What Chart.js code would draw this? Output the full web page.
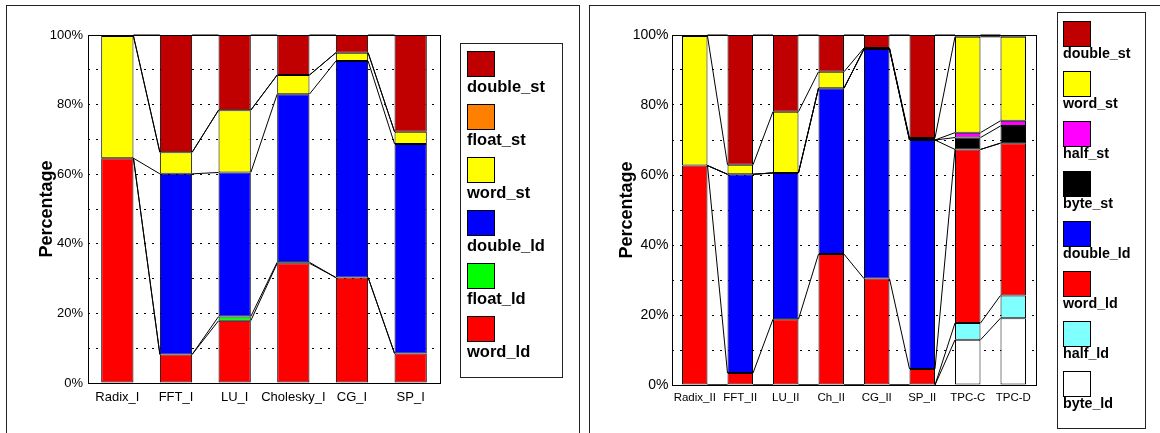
<!DOCTYPE html>
<html>
<head>
<meta charset="utf-8">
<script src="https://cdn.jsdelivr.net/npm/chart.js@4.4.1/dist/chart.umd.min.js"></script>
<style>
  body { margin: 0; background: #fff; overflow: hidden; width: 1160px; height: 433px; }
  .panel { position: absolute; border: 1px solid #222; background: #fff; }
  #panelA { left: 6px; top: 5px; width: 572px; height: 440px; }
  #panelB { left: 589px; top: 5px; width: 600px; height: 440px; }
  canvas { display: block; }
</style>
</head>
<body>
<div class="panel" id="panelA"><canvas id="chartA" width="572" height="427"></canvas></div>
<div class="panel" id="panelB"><canvas id="chartB" width="570" height="427"></canvas></div>
<script>
// benchmark suite I
const labelsI = ["Radix_I", "FFT_I", "LU_I", "Cholesky_I", "CG_I", "SP_I"];
const wordLdI   = [64.6,  8.2, 17.9, 34.4, 30.3,  8.5];
const floatLdI  = [0,     0,    1.2,  0.3,  0,     0];
const doubleLdI = [0,    51.9, 41.4, 48.3, 62.2, 60.2];
const wordStI   = [35.1,  6.2, 17.9,  5.5,  2.4,  3.5];
const floatStI  = [0,     0,    0,    0,    0,    0];
const doubleStI = [0.3,  33.7, 21.6, 11.5,  5.1, 27.8];

// benchmark suite II + TPC
const labelsII = ["Radix_II", "FFT_II", "LU_II", "Ch_II", "CG_II", "SP_II", "TPC-C", "TPC-D"];
const byteLdII   = [0,    0,    0,    0,    0,    0,    12.9, 19.1];
const halfLdII   = [0,    0,    0,    0,    0,    0,     4.8,  6.5];
const wordLdII   = [62.7, 3.4, 18.8, 37.4, 30.4,  4.6, 49.6, 43.5];
const doubleLdII = [0,   56.8, 41.8, 47.4, 65.6, 65.4,  0,    0];
const byteStII   = [0,    0,    0,    0,    0,    0,     3.4,  4.9];
const halfStII   = [0,    0,    0,    0,    0,    0,     1.4,  1.5];
const wordStII   = [37.0, 2.7, 17.5,  4.7,  0.3,  0.6, 27.4, 24.0];
const doubleStII = [0.3, 37.1, 21.9, 10.5,  3.7, 29.4,  0.5,  0.5];

const yTicks = [0, 20, 40, 60, 80, 100];

Chart.defaults.font.family = "'Liberation Sans', Arial, sans-serif";
Chart.defaults.color = "#000";

// plot frame + thin lines joining each stack boundary to the same boundary of the next bar
const seriesLines = {
  id: "seriesLines",
  afterDatasetsDraw(chart) {
    const ctx = chart.ctx;
    const a = chart.chartArea;
    ctx.save();
    ctx.strokeStyle = "#000";
    ctx.lineWidth = 1;
    ctx.strokeRect(Math.round(a.left) + 0.5, Math.round(a.top) + 0.5,
      Math.round(a.right - a.left), Math.round(a.bottom - a.top));
    chart.data.datasets.forEach((ds, d) => {
      const bars = chart.getDatasetMeta(d).data;
      for (let i = 0; i < bars.length - 1; i++) {
        const p = bars[i], q = bars[i + 1];
        ctx.beginPath();
        ctx.moveTo(p.x + p.width / 2, p.y);
        ctx.lineTo(q.x - q.width / 2, q.y);
        ctx.stroke();
      }
    });
    ctx.restore();
  }
};

// legend box on the right: swatch with the name under it
const stackLegend = {
  id: "stackLegend",
  afterDraw(chart, args, o) {
    const ctx = chart.ctx;
    ctx.save();
    ctx.strokeStyle = "#222";
    ctx.lineWidth = 1;
    ctx.strokeRect(o.x + 0.5, o.y + 0.5, o.w, o.h);
    ctx.font = "bold " + o.fontSize + "px 'Liberation Sans', Arial, sans-serif";
    ctx.textBaseline = "middle";
    ctx.textAlign = "left";
    const items = chart.data.datasets.slice().reverse();
    items.forEach((ds, k) => {
      const top = o.first + k * o.step;
      ctx.fillStyle = ds.backgroundColor;
      ctx.fillRect(o.sx, top, 27, 25);
      ctx.strokeStyle = "#000";
      ctx.strokeRect(o.sx + 0.5, top + 0.5, 27, 25);
      ctx.fillStyle = "#000";
      ctx.fillText(ds.label, o.sx, top + o.textOffset);
    });
    ctx.restore();
  }
};

function stacked(names, values, colors) {
  return names.map((n, i) => ({
    label: n,
    data: values[i],
    backgroundColor: colors[i],
    borderColor: "#000",
    borderWidth: 1,
    borderSkipped: false
  }));
}

function makeChart(id, labels, datasets, cfg) {
  return new Chart(document.getElementById(id).getContext("2d"), {
    type: "bar",
    data: { labels: labels, datasets: datasets },
    plugins: [seriesLines, stackLegend],
    options: {
      responsive: false,
      animation: false,
      devicePixelRatio: 1,
      layout: { padding: { left: 0, top: cfg.top, right: cfg.right, bottom: 0 } },
      datasets: { bar: { barPercentage: cfg.barPct, categoryPercentage: 1 } },
      plugins: {
        legend: { display: false },
        tooltip: { enabled: false },
        stackLegend: cfg.legend
      },
      scales: {
        x: {
          stacked: true,
          grid: { display: false, drawTicks: false },
          border: { display: false },
          ticks: { font: { size: cfg.xFont }, padding: cfg.xPad, maxRotation: 0, autoSkip: false },
          afterFit(s) { s.height = cfg.xHeight; }
        },
        y: {
          stacked: true,
          min: 0,
          max: 100,
          ticks: {
            stepSize: 10,
            padding: cfg.yPad,
            font: { size: cfg.yFont },
            callback: v => (yTicks.includes(v) ? v + "%" : "")
          },
          grid: { color: "#000", lineWidth: 1, drawTicks: false },
          border: { display: false, dash: [2, 6] },
          title: {
            display: true,
            text: "Percentage",
            font: { size: 18, weight: "bold" },
            padding: { top: cfg.titlePad, bottom: 0 }
          },
          afterFit(s) { s.width = cfg.yWidth; }
        }
      }
    }
  });
}

makeChart("chartA", labelsI,
  stacked(["word_ld", "float_ld", "double_ld", "word_st", "float_st", "double_st"],
    [wordLdI, floatLdI, doubleLdI, wordStI, floatStI, doubleStI],
    ["#FF0000", "#00FF00", "#0000FF", "#FFFF00", "#FF8000", "#C00000"]),
  {
    top: 29, right: 139, barPct: 0.55, xFont: 13, xPad: 7, xHeight: 50,
    yFont: 13, yPad: 5, yWidth: 81, titlePad: 29,
    legend: { x: 453, y: 37, w: 102, h: 334, sx: 460, first: 45, step: 53, textOffset: 36, fontSize: 16.5 }
  });

makeChart("chartB", labelsII,
  stacked(["byte_ld", "half_ld", "word_ld", "double_ld", "byte_st", "half_st", "word_st", "double_st"],
    [byteLdII, halfLdII, wordLdII, doubleLdII, byteStII, halfStII, wordStII, doubleStII],
    ["#FFFFFF", "#80FFFF", "#FF0000", "#0000FF", "#000000", "#FF00FF", "#FFFF00", "#C00000"]),
  {
    top: 29, right: 124, barPct: 0.56, xFont: 11.5, xPad: 6, xHeight: 48,
    yFont: 14, yPad: 3.5, yWidth: 82, titlePad: 26,
    legend: { x: 467, y: 6, w: 88, h: 416, sx: 473, first: 15, step: 50, textOffset: 33, fontSize: 14.3 }
  });
</script>
</body>
</html>
